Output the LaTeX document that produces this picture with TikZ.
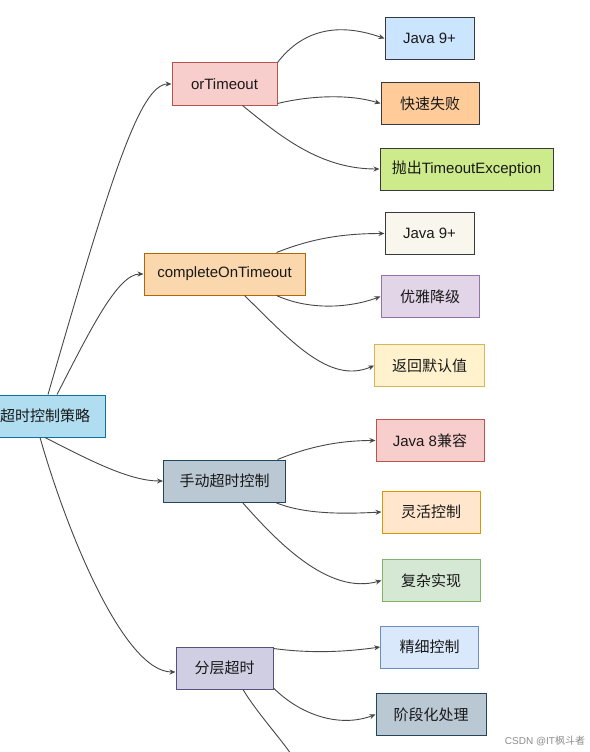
\documentclass[tikz,border=0pt]{standalone}
\usepackage{fontspec}
\setmainfont{Liberation Sans}
\newfontfamily\cjk{Noto Sans CJK SC}
\usetikzlibrary{arrows.meta,positioning,calc}
\definecolor{rootfill}{HTML}{B1DDF0}\definecolor{rootdraw}{HTML}{10739E}
\definecolor{redfill}{HTML}{F8CECC}\definecolor{reddraw}{HTML}{B85450}
\definecolor{peachfill}{HTML}{FAD7AC}\definecolor{peachdraw}{HTML}{B46504}
\definecolor{slatefill}{HTML}{BAC8D3}\definecolor{slatedraw}{HTML}{23445D}
\definecolor{lilacfill}{HTML}{D0CEE2}\definecolor{lilacdraw}{HTML}{56517E}
\definecolor{skyfill}{HTML}{CCE5FF}\definecolor{greydraw}{HTML}{36393D}
\definecolor{orangefill}{HTML}{FFCC99}
\definecolor{limefill}{HTML}{CDEB8B}
\definecolor{ivoryfill}{HTML}{F9F7ED}
\definecolor{purplefill}{HTML}{E1D5E7}\definecolor{purpledraw}{HTML}{9673A6}
\definecolor{yellowfill}{HTML}{FFF2CC}\definecolor{yellowdraw}{HTML}{D6B656}
\definecolor{amberfill}{HTML}{FFE6CC}\definecolor{amberdraw}{HTML}{D79B00}
\definecolor{greenfill}{HTML}{D5E8D4}\definecolor{greendraw}{HTML}{82B366}
\definecolor{bluefill}{HTML}{DAE8FC}\definecolor{bluedraw}{HTML}{6C8EBF}
\tikzset{
  box/.style 2 args = {
    draw=#2,
    fill=#1,
    line width=1pt,
    minimum height=42pt,
    inner sep=0pt,
    text=black!90,
    font=\fontsize{15}{18}\selectfont
  },
  arc/.style = {
    ->,
    line width=0.9pt,
    draw=black!72,
    >={Stealth[length=6pt,width=5pt]}
  }
}
\begin{document}
\begin{tikzpicture}[x=1pt,y=-1pt]
		\path[use as bounding box, fill=white] (0,0) rectangle (589,752);
		\node[box={rootfill}{rootdraw}, minimum width=120pt] (root) at (45,416) {\cjk 超时控制策略};
		\node[box={redfill}{reddraw}, minimum width=105pt] (ort) at (224.5,84) {orTimeout};
		\node[box={peachfill}{peachdraw}, minimum width=161pt] (cot) at (224.5,274) {completeOnTimeout};
		\node[box={slatefill}{slatedraw}, minimum width=122pt] (man) at (224.5,481) {\cjk 手动超时控制};
		\node[box={lilacfill}{lilacdraw}, minimum width=97pt] (lay) at (224.5,668) {\cjk 分层超时};
%		
		\node[box={skyfill}{greydraw}, minimum width=89pt] (ortj) at (429.5,38.5) {Java 9+};
		\node[box={orangefill}{greydraw}, minimum width=98pt] (ortf) at (430,103.5) {\cjk 快速失败};
		\node[box={limefill}{greydraw}, minimum width=173pt] (ortx) at (466.5,169) {{\cjk 抛出}TimeoutException};
		\node[box={ivoryfill}{greydraw}, minimum width=89pt] (cotj) at (429.5,233.5) {Java 9+};
		\node[box={purplefill}{purpledraw}, minimum width=98pt] (cotg) at (430,296.5) {\cjk 优雅降级};
		\node[box={yellowfill}{yellowdraw}, minimum width=110pt] (cotd) at (429.7,365.5) {\cjk 返回默认值};
		\node[box={redfill}{reddraw}, minimum width=108pt] (manj) at (430,440.5) {Java 8{\cjk 兼容}};
		\node[box={amberfill}{amberdraw}, minimum width=98pt] (manf) at (431,512) {\cjk 灵活控制};
		\node[box={greenfill}{greendraw}, minimum width=98pt] (manc) at (431,580.5) {\cjk 复杂实现};
		\node[box={bluefill}{bluedraw}, minimum width=98pt] (layf) at (429.7,647) {\cjk 精细控制};
		\node[box={slatefill}{slatedraw}, minimum width=110pt] (lays) at (431,714.5) {\cjk 阶段化处理};
		\coordinate (layn) at (296,762);
		
		\node[text=black!45, font=\fontsize{10}{12}\selectfont] (mark) at (545,741) {CSDN @IT{\cjk 枫斗者}};
		
		\draw[arc] ([xshift=3pt]root.north) .. controls +(62,-214) and +(-32,0) .. (ort.west);
		\draw[arc] ([xshift=12pt]root.north) .. controls +(33,-64) and +(-26,0) .. (cot.west);
		\draw[arc] (root.south) .. controls +(45,23) and +(-33.5,0) .. (man.west);
		\draw[arc] ([xshift=-5pt]root.south) .. controls +(28,98) and +(-51,0) .. ([yshift=-4pt]lay.west);
		
		\draw[arc] (ort.north east) .. controls +(33,-43) and +(-30,-10.5) .. (ortj.west);
		\draw[arc] ([yshift=2pt]ort.south east) .. controls +(33,-8) and +(-31,-9.5) .. (ortf.west);
		\draw[arc] ([xshift=18pt]ort.south) .. controls +(37,30) and +(-60,0) .. (ortx.west);
		
		\draw[arc] ([xshift=52pt]cot.north) .. controls +(33,-13) and +(-45,0) .. (cotj.west);
		\draw[arc] ([xshift=52pt]cot.south) .. controls +(33,15) and +(-31,11.5) .. (cotg.west);
		\draw[arc] ([xshift=20pt]cot.south) .. controls +(45,44) and +(-45,19.5) .. (cotd.west);
		
		\draw[arc] ([xshift=53pt]man.north) .. controls +(32,-13) and +(-36,0) .. (manj.west);
		\draw[arc] ([xshift=51pt]man.south) .. controls +(29,12) and +(-37,2) .. (manf.west);
		\draw[arc] ([xshift=18pt]man.south) .. controls +(37,42) and +(-52,14.5) .. (manc.west);
		
		\draw[arc] ([yshift=-2pt]lay.north east) .. controls +(37,5) and +(-36,5) .. (layf.west);
		\draw[arc] ([yshift=1.5pt]lay.south east) .. controls +(27,27) and +(-36,13.5) .. (lays.west);
		\draw[arc] ([xshift=18.5pt]lay.south) .. controls +(15,25) and +(-12,-20) .. (layn);
	\end{tikzpicture}
\end{document}
